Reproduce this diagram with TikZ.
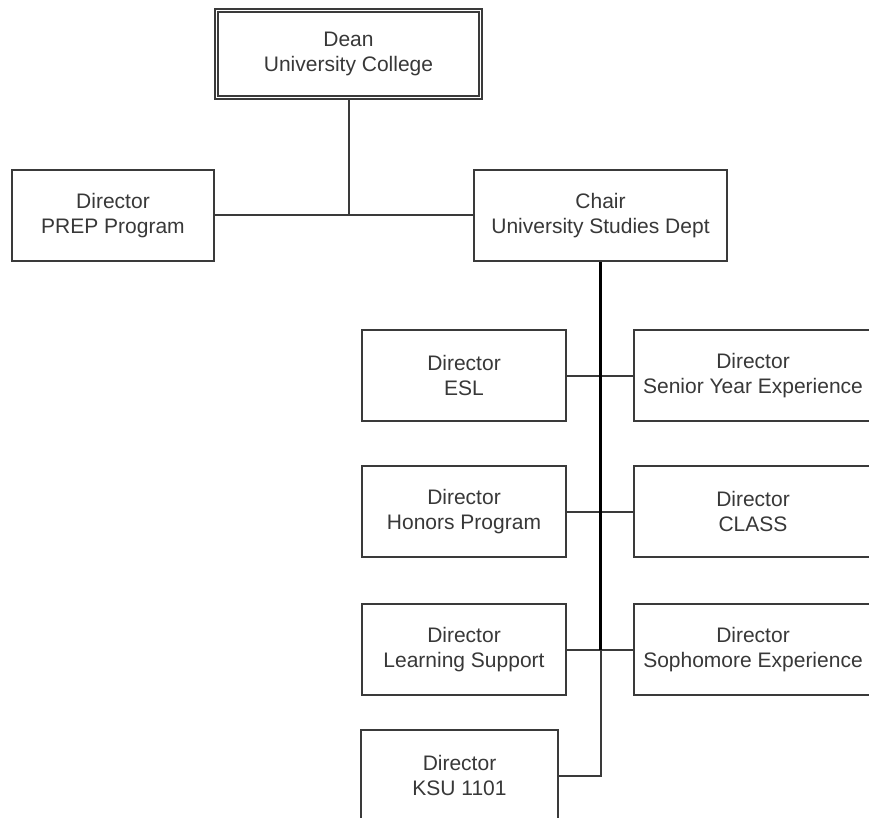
\documentclass[tikz,border=0pt]{standalone}
\usepackage{fontspec}
\setmainfont{Liberation Sans}
\begin{document}
\begin{tikzpicture}[x=1pt,y=-1pt,
  box/.style={draw=linegray, line width=2pt, fill=white, inner sep=0pt, align=center,
    font=\fontsize{21}{24.5}\selectfont, text=textgray},
  conn/.style={draw=linegray, line width=2pt},
  spine/.style={draw=black, line width=3pt}]
\definecolor{linegray}{HTML}{3A3A3A}
\definecolor{textgray}{HTML}{383838}
\clip (0,0) rectangle (869,818);
\useasboundingbox (0,0) rectangle (869,818);
\node[box, double, double distance=1.6pt, line width=1.6pt, minimum width=264pt, minimum height=87pt] (dean) at (348.5,54) {Dean\\University College};
\node[box, minimum width=202pt, minimum height=91pt] (prep) at (113,215.5) {Director\\PREP Program};
\node[box, minimum width=253pt, minimum height=91pt] (chair) at (600.5,215.5) {Chair\\University Studies Dept};
\node[box, minimum width=204pt, minimum height=91pt] (esl) at (464,375.5) {Director\\ESL};
\node[box, minimum width=238pt, minimum height=91pt] (senior) at (753,375.5) {Director\\Senior Year Experience};
\node[box, minimum width=204pt, minimum height=91pt] (honors) at (464,511.5) {Director\\Honors Program};
\node[box, minimum width=238pt, minimum height=91pt] (class) at (753,511.5) {Director\\CLASS};
\node[box, minimum width=204pt, minimum height=91pt] (learn) at (464,649.5) {Director\\Learning Support};
\node[box, minimum width=238pt, minimum height=91pt] (soph) at (753,649.5) {Director\\Sophomore Experience};
\node[box, minimum width=197pt, minimum height=91pt] (ksu) at (459.5,775.5) {Director\\KSU 1101};
\coordinate (j1) at (dean.south |- prep.east);
\coordinate (sp) at (chair.south |- learn.east);
\coordinate (sk) at (chair.south |- ksu.east);
\draw[conn] (dean.south) -- (j1);
\draw[conn] (prep.east) -- (chair.west);
\draw[conn] (esl.east) -- (senior.west);
\draw[conn] (honors.east) -- (class.west);
\draw[conn] (learn.east) -- (soph.west);
\draw[conn] (sp) -- (sk) -- (ksu.east);
\draw[spine] (chair.south) -- (sp);
\end{tikzpicture}
\end{document}
